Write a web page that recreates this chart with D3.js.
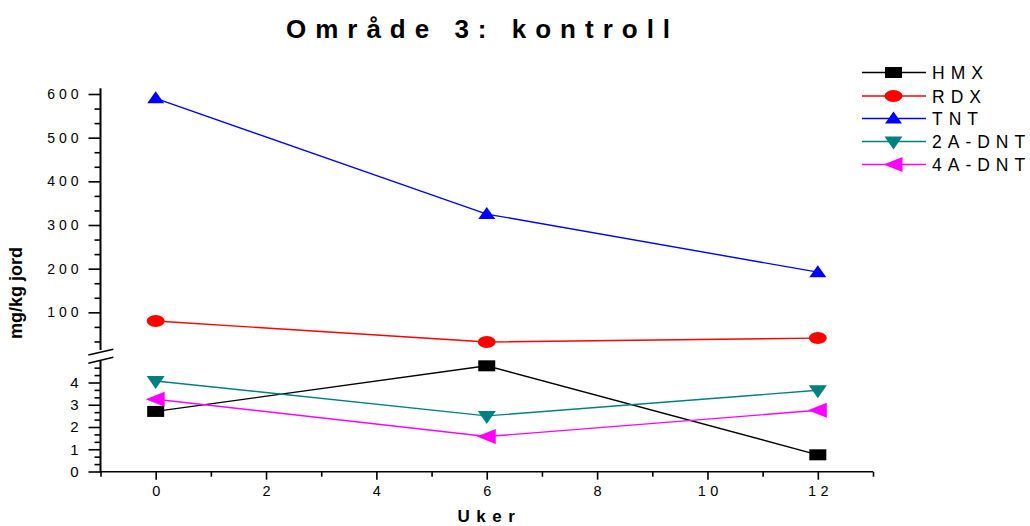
<!DOCTYPE html>
<html>
<head>
<meta charset="utf-8">
<script src="https://cdn.jsdelivr.net/npm/d3@7"></script>
<style>
  html, body { margin: 0; padding: 0; background: #fff; }
  svg { display: block; font-family: Arial, "Liberation Sans", sans-serif; }
</style>
</head>
<body>
<svg id="chart" width="1030" height="526"></svg>
<script>
// Sampling weeks
const weeks = [0, 6, 12];

// Concentrations (mg/kg jord)
const hmx    = [2.7, 4.75, 0.75];
const rdx    = [80, 32, 41];
const tnt    = [590, 325, 192];
const a2dnt  = [4.07, 2.5, 3.65];
const a4dnt  = [3.25, 1.57, 2.75];

const seriesNames = ["HMX", "RDX", "TNT", "2A-DNT", "4A-DNT"];

// Axis ticks
const xTicks = [0, 2, 4, 6, 8, 10, 12];
const xMinorTicks = [-1, 1, 3, 5, 7, 9, 11, 13];
const yHighTicks = [100, 200, 300, 400, 500, 600];
const yLowTicks = [0, 1, 2, 3, 4];

const svg = d3.select("#chart");

// Scales: shared x, broken y (low segment 0–5, high segment above the break)
const x = d3.scaleLinear().domain([-1, 13]).range([100.5, 873]);
const yLow = d3.scaleLinear().domain([0, 5]).range([471.5, 360.25]);
const yHigh = d3.scaleLinear().domain([0, 600]).range([356, 94]);
const highTop = 613, highBottom = 13.7;

const series = [
  { name: seriesNames[0], values: hmx,   scale: yLow,  color: "#000000", shape: "square" },
  { name: seriesNames[1], values: rdx,   scale: yHigh, color: "#ff0000", shape: "circle" },
  { name: seriesNames[2], values: tnt,   scale: yHigh, color: "#0000ff", shape: "up" },
  { name: seriesNames[3], values: a2dnt, scale: yLow,  color: "#008080", shape: "down" },
  { name: seriesNames[4], values: a4dnt, scale: yLow,  color: "#ff00ff", shape: "left" }
];

// Marker outlines, centred on (0,0)
function markerPath(shape) {
  const p = d3.path();
  switch (shape) {
    case "square":
      p.rect(-8.5, -5.5, 17, 11); break;
    case "up":
      p.moveTo(0, -7); p.lineTo(8.5, 5); p.lineTo(-8.5, 5); p.closePath(); break;
    case "down":
      p.moveTo(-9, -5); p.lineTo(9, -5); p.lineTo(0, 8); p.closePath(); break;
    case "left":
      p.moveTo(-10, 0); p.lineTo(9, -7.5); p.lineTo(9, 7.5); p.closePath(); break;
  }
  return p.toString();
}
function drawMarker(g, shape, cx, cy, color) {
  if (shape === "circle") {
    g.append("ellipse").attr("cx", cx).attr("cy", cy).attr("rx", 9).attr("ry", 6).attr("fill", color);
  } else {
    g.append("path").attr("d", markerPath(shape))
      .attr("transform", `translate(${cx},${cy})`).attr("fill", color);
  }
}

// Title
const titleLS = 9;
svg.append("text")
  .attr("x", 478 + titleLS / 2).attr("y", 38)
  .attr("text-anchor", "middle")
  .attr("font-size", 26).attr("font-weight", "bold")
  .attr("letter-spacing", titleLS)
  .text("Område 3: kontroll");

// X axis
const xAxisY = 471.7;
const xg = svg.append("g").attr("transform", `translate(0,${xAxisY})`);
xg.call(d3.axisBottom(x).tickValues(xTicks).tickSize(8).tickFormat(d3.format("d")));
xg.append("g").call(d3.axisBottom(x).tickValues(xMinorTicks).tickSize(5).tickFormat(""));
xg.selectAll(".domain").remove();
xg.append("line").attr("x1", x(-1)).attr("x2", x(13)).attr("stroke", "#000").attr("stroke-width", 1.6);
xg.selectAll(".tick line").attr("stroke", "#000").attr("stroke-width", 1.6);
xg.selectAll(".tick text")
  .attr("font-size", 14.5).attr("fill", "#000").attr("letter-spacing", 4.5)
  .attr("dx", 2.25).attr("y", 14).attr("dy", "0.71em");

// X label
svg.append("text")
  .attr("x", 486 + 3.5).attr("y", 522)
  .attr("text-anchor", "middle")
  .attr("font-size", 17).attr("font-weight", "bold")
  .attr("letter-spacing", 6.5)
  .text("Uker");

// Y axes (broken)
const axisX = 100.5;
function yAxisSegment(scale, majors, minorStep, lo, hi, fontSize, ls) {
  const g = svg.append("g").attr("transform", `translate(${axisX},0)`);
  const minors = [];
  for (let v = lo; v <= hi + 1e-9; v += minorStep) {
    const r = Math.round(v * 1000) / 1000;
    if (!majors.some(m => Math.abs(m - r) < 1e-6)) minors.push(r);
  }
  const major = g.append("g").call(d3.axisLeft(scale).tickValues(majors).tickSize(12).tickFormat(d3.format("d")));
  g.append("g").call(d3.axisLeft(scale).tickValues(minors).tickSize(6).tickFormat(""));
  g.selectAll(".domain").remove();
  g.selectAll(".tick line").attr("stroke", "#000").attr("stroke-width", 1.6);
  major.selectAll(".tick text")
    .attr("font-size", fontSize).attr("fill", "#000")
    .attr("letter-spacing", ls)
    .attr("x", -22 + ls);
  return g;
}
yAxisSegment(yHigh, yHighTicks, 100 / 3, 100 / 3, highTop, 14, 4);
yAxisSegment(yLow, yLowTicks, 1 / 3, 0, 4.7, 15, 0);

// Axis lines for each segment
svg.append("line").attr("x1", axisX).attr("x2", axisX)
  .attr("y1", yHigh(highTop)).attr("y2", yHigh(highBottom))
  .attr("stroke", "#000").attr("stroke-width", 2);
svg.append("line").attr("x1", axisX).attr("x2", axisX)
  .attr("y1", yLow(5)).attr("y2", yLow(0) + 1)
  .attr("stroke", "#000").attr("stroke-width", 2);

// Break mark
svg.append("path")
  .attr("d", "M88.3,355 L113.3,349.3 L113.3,357.3 L88.3,363.3 Z")
  .attr("fill", "#fff");
[[355, 349.3], [363.3, 357.3]].forEach(([a, b]) => {
  svg.append("line").attr("x1", 88.3).attr("y1", a).attr("x2", 113.3).attr("y2", b)
    .attr("stroke", "#000").attr("stroke-width", 1.6);
});

// Y label
svg.append("text")
  .attr("transform", "translate(22,293) rotate(-90)")
  .attr("text-anchor", "middle")
  .attr("font-size", 18).attr("font-weight", "bold")
  .text("mg/kg jord");

// Series lines and markers
const plot = svg.append("g");
series.forEach(s => {
  const line = d3.line().x((d, i) => x(weeks[i])).y(d => s.scale(d));
  plot.append("path").datum(s.values)
    .attr("d", line).attr("fill", "none")
    .attr("stroke", s.color).attr("stroke-width", 1.4);
});
series.forEach(s => {
  s.values.forEach((v, i) => drawMarker(plot, s.shape, x(weeks[i]), s.scale(v), s.color));
});

// Legend
const legendRows = [72.5, 96, 118.5, 141.5, 164.5];
const legend = svg.append("g");
series.forEach((s, i) => {
  const cy = legendRows[i];
  legend.append("line").attr("x1", 862).attr("x2", 926).attr("y1", cy).attr("y2", cy)
    .attr("stroke", s.color).attr("stroke-width", 1.4);
  drawMarker(legend, s.shape, 893.5, cy, s.color);
  legend.append("text")
    .attr("x", 932).attr("y", cy + 6.5)
    .attr("font-size", 17.5).attr("letter-spacing", 6)
    .text(s.name);
});
</script>
</body>
</html>
